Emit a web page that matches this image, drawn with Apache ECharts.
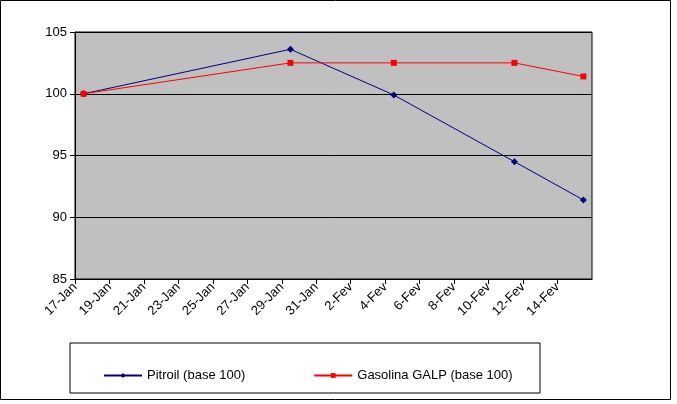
<!DOCTYPE html>
<html><head><meta charset="utf-8">
<script src="https://cdn.jsdelivr.net/npm/echarts@6/dist/echarts.min.js"></script>
<style>html,body{margin:0;padding:0;background:#fff}#c{width:677px;height:404px}</style>
</head><body><div id="c"></div>
<script>
// days after 17-Jan
var days = [0, 12, 18, 25, 29];
var pitroil = [100, 103.6, 99.9, 94.5, 91.4];
var galp = [100, 102.5, 102.5, 102.5, 101.4];
var months = ['Jan', 'Fev'];

function label(v) {
    var d = 17 + v;
    if (d <= 31) return d + '-' + months[0];
    return (d - 31) + '-' + months[1];
}
function pts(vals) {
    return days.map(function (d, i) { return [d + 0.5, vals[i]]; });
}

var chart = echarts.init(document.getElementById('c'));
chart.setOption({
    animation: false,
    textStyle: {fontFamily: 'Liberation Sans, Arial', color: '#000'},
    grid: {left: 75, top: 32, right: 85, bottom: 125, show: true, backgroundColor: '#c0c0c0', borderColor: '#000', borderWidth: 1},
    xAxis: {
        type: 'value', min: 0, max: 30, interval: 2,
        axisLine: {lineStyle: {color: '#000'}},
        axisTick: {inside: false, length: 5, lineStyle: {color: '#000'}},
        splitLine: {show: false},
        axisLabel: {rotate: 45, fontSize: 13, color: '#000', margin: 6, showMaxLabel: false, formatter: label}
    },
    yAxis: {
        type: 'value', min: 85, max: 105, interval: 5,
        axisLine: {show: true, lineStyle: {color: '#000'}},
        axisTick: {show: true, length: 5, lineStyle: {color: '#000'}},
        splitLine: {lineStyle: {color: '#000'}},
        axisLabel: {fontSize: 13, color: '#000', margin: 8}
    },
    legend: {
        left: 98, top: 364, itemGap: 68, itemWidth: 38, itemHeight: 6,
        textStyle: {fontSize: 13, color: '#000'},
        data: ['Pitroil (base 100)', 'Gasolina GALP (base 100)']
    },
    graphic: [
        {type: 'rect', shape: {x: 70, y: 343, width: 470, height: 50}, style: {fill: 'none', stroke: '#000', lineWidth: 1}},
        {type: 'rect', shape: {x: 0.5, y: 0.5, width: 670, height: 399}, style: {fill: 'none', stroke: '#000', lineWidth: 1}}
    ],
    series: [
        {name: 'Pitroil (base 100)', type: 'line', data: pts(pitroil), symbol: 'diamond', symbolSize: 7,
         lineStyle: {color: '#000080', width: 1}, itemStyle: {color: '#000080'}},
        {name: 'Gasolina GALP (base 100)', type: 'line', data: pts(galp), symbol: 'rect', symbolSize: 6,
         lineStyle: {color: '#ff0000', width: 1}, itemStyle: {color: '#ff0000'}}
    ]
});
</script></body></html>
